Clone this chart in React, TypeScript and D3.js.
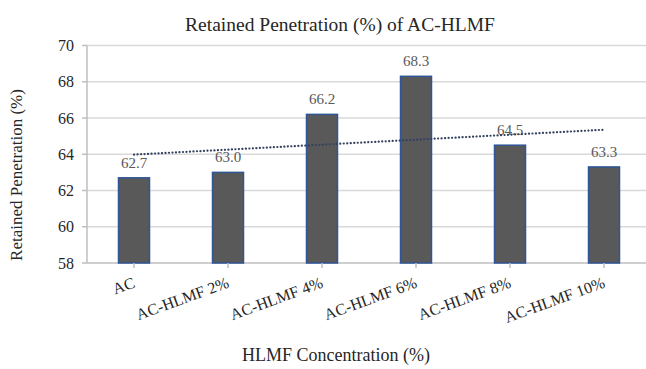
import React from "react";
import * as d3 from "d3";

const categories = ["AC", "AC-HLMF 2%", "AC-HLMF 4%", "AC-HLMF 6%", "AC-HLMF 8%", "AC-HLMF 10%"];
const values = [62.7, 63.0, 66.2, 68.3, 64.5, 63.3];
const yTicks = [58, 60, 62, 64, 66, 68, 70];

const W = 646;
const H = 369;
const FONT = "Liberation Serif";

export default function App() {
  const left = 87;
  const right = 651;
  const top = 45.5;
  const bottom = 263;

  const x = d3.scaleBand<string>().domain(categories).range([left, right]).paddingInner(0).paddingOuter(0);
  const y = d3.scaleLinear().domain([58, 70]).range([bottom, top]);
  const barW = 31;
  const cx = (c: string) => (x(c) as number) + x.bandwidth() / 2;

  // Linear trendline fitted over category index 1..n
  const idx = values.map((_, i) => i + 1);
  const mx = d3.mean(idx) as number;
  const my = d3.mean(values) as number;
  const slope =
    d3.sum(idx.map((v, i) => (v - mx) * (values[i] - my))) / d3.sum(idx.map((v) => (v - mx) * (v - mx)));
  const intercept = my - slope * mx;
  const trend = d3
    .line<number>()
    .x((i) => cx(categories[i - 1]))
    .y((i) => y(intercept + slope * i));

  return (
    <svg width={W} height={H} style={{ position: "absolute", left: 0, top: 0, background: "#fff" }}>
      <text x={340} y={31} textAnchor="middle" style={{ fontFamily: FONT }} fontSize={19.5} fill="#262626">
        Retained Penetration (%) of  AC-HLMF
      </text>

      {yTicks.map((t) => (
        <g key={t}>
          {t !== 58 && <line x1={left} x2={W} y1={y(t)} y2={y(t)} stroke="#d9d9d9" strokeWidth={1.5} />}
          <line x1={left - 5} x2={left} y1={y(t)} y2={y(t)} stroke="#bfbfbf" strokeWidth={1.5} />
          <text x={74} y={y(t)} dy="0.35em" textAnchor="end" style={{ fontFamily: FONT }} fontSize={16} fill="#262626">
            {t}
          </text>
        </g>
      ))}
      <line x1={left} x2={left} y1={top} y2={bottom} stroke="#bfbfbf" strokeWidth={1.5} />
      <line x1={left} x2={W} y1={bottom} y2={bottom} stroke="#bfbfbf" strokeWidth={1.5} />

      {categories.map((c, i) => (
        <g key={c}>
          <rect
            x={cx(c) - barW / 2}
            y={y(values[i])}
            width={barW}
            height={bottom - y(values[i])}
            fill="#595959"
            stroke="#2f5597"
            strokeWidth={1.5}
          />
          <line x1={cx(c)} x2={cx(c)} y1={bottom} y2={bottom + 5} stroke="#bfbfbf" strokeWidth={1.5} />
          <text
            x={cx(c)}
            y={y(values[i]) - 10}
            textAnchor="middle"
            style={{ fontFamily: FONT }}
            fontSize={15}
            fill="#595959"
          >
            {values[i].toFixed(1)}
          </text>
          <text
            transform={`translate(${cx(c) + 2},${bottom + 24}) rotate(-20)`}
            textAnchor="end"
            style={{ fontFamily: FONT }}
            fontSize={16}
            fill="#262626"
          >
            {c}
          </text>
        </g>
      ))}

      <path
        d={trend(idx) as string}
        fill="none"
        stroke="#34425f"
        strokeWidth={2.2}
        strokeDasharray="0.1 3.4"
        strokeLinecap="round"
      />

      <text x={336} y={361} textAnchor="middle" style={{ fontFamily: FONT }} fontSize={18} fill="#262626">
        HLMF Concentration (%)
      </text>
      <text
        transform={`translate(22,175) rotate(-90)`}
        textAnchor="middle"
        style={{ fontFamily: FONT }}
        fontSize={17}
        fill="#262626"
      >
        Retained Penetration (%)
      </text>
    </svg>
  );
}
